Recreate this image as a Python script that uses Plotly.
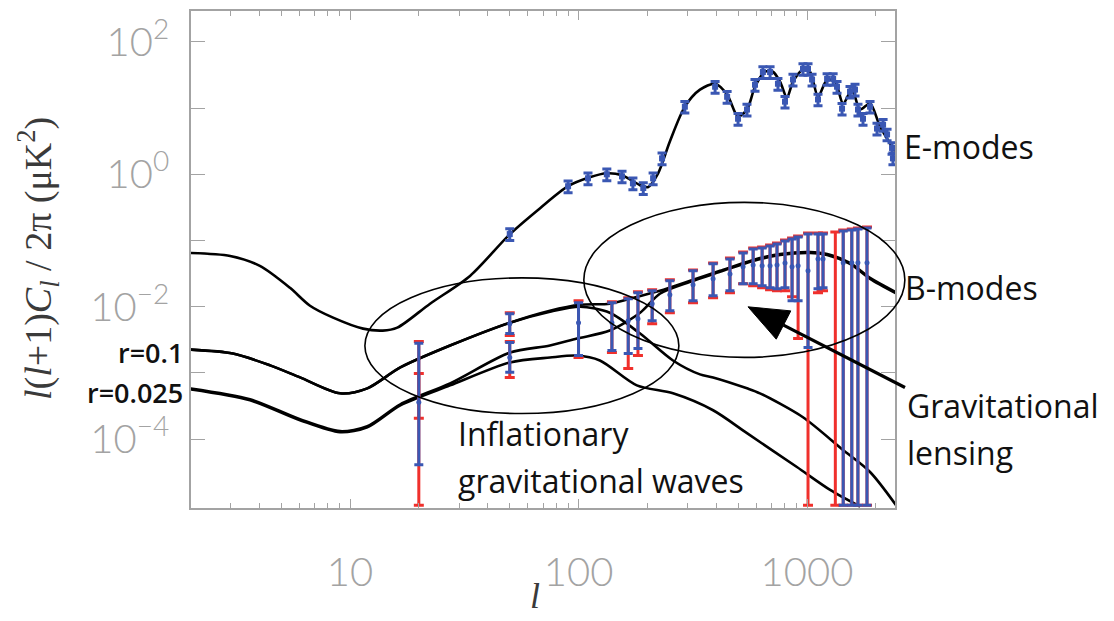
import plotly.graph_objects as go

# ---------------- data ----------------
# E-mode theory curve
ell_E_theory = [2.0, 2.99, 4.03, 5.46, 6.68, 8.43, 11.4, 13.9, 16.1, 22.4, 33.5, 50.1, 67.9, 90, 112, 133,
                155, 186, 201, 223, 251, 292, 340, 396, 447, 499, 546, 592, 654, 709, 762, 817, 868, 960,
                1030, 1117, 1224, 1327, 1438, 1574, 1706, 1887, 2086, 2427]
DE_theory = [0.0649, 0.0585, 0.0414, 0.0193, 0.01035, 0.00684, 0.00467, 0.00436, 0.00483, 0.0111, 0.0292,
             0.125, 0.308, 0.66, 0.90, 1.035, 0.966, 0.684, 0.638, 1.035, 3.13, 10.5, 19.0, 23.3, 16.0, 7.45,
             9.5, 21.0, 35.4, 35.4, 25.0, 14.4, 25.0, 37.9, 35.4, 14.9, 26.8, 25.0, 11.7, 19.0, 9.5, 11.7,
             5.27, 2.22]

# E-mode simulated data points
ell_E_data = [50, 90, 110, 133, 155, 173, 192, 212, 232, 292, 396, 447, 499, 546, 592, 641, 689, 746, 801,
              868, 960, 1010, 1052, 1117, 1224, 1301, 1353, 1423, 1542, 1622, 1671, 1758, 1887, 2024, 2152,
              2240, 2355, 2377]
DE_data = [0.125, 0.66, 0.87, 1.0, 0.93, 0.73, 0.62, 0.87, 1.74, 10.5, 21.0, 14.8, 6.9, 9.5, 22.5, 35.0, 35.0,
           23.3, 12.5, 27.0, 39.0, 39.0, 27.0, 13.5, 27.6, 27.6, 21.0, 9.8, 17.7, 19.0, 9.5, 6.9, 10.5, 4.9,
           5.6, 4.0, 2.5, 1.74]

# B-mode tensor (gravitational wave) curves
ell_T01 = [2.0, 3.07, 4.47, 6.04, 9.04, 11.9, 16.6, 27.4, 50.1, 75, 101.6, 137, 186, 259, 340, 388, 546, 622,
           960, 1438, 1887, 2477]
DB_T01 = [2.25e-3, 1.96e-3, 1.30e-3, 8.56e-4, 4.92e-4, 5.85e-4, 1.21e-3, 2.59e-3, 5.74e-3, 8.41e-3, 1.0e-2,
          8.1e-3, 3.93e-3, 1.54e-3, 9.5e-4, 8.56e-4, 5.85e-4, 4.92e-4, 2.14e-4, 6.84e-5, 3.19e-5, 9.6e-6]

ell_T0025 = [2.0, 3.65, 6.04, 9.04, 11.9, 16.6, 27.4, 50.1, 75, 98.4, 124, 180, 259, 388, 546, 903, 1262, 1706]
DB_T0025 = [5.65e-4, 3.86e-4, 1.93e-4, 1.27e-4, 1.51e-4, 3.24e-4, 6.48e-4, 1.44e-3, 1.71e-3, 1.83e-3, 1.54e-3,
            6.48e-4, 4.92e-4, 2.73e-4, 1.23e-4, 3.79e-5, 1.71e-5, 9.6e-6]

# B-mode total (tensor + lensing) curves
ell_tot01 = [2.0, 3.07, 4.47, 6.04, 9.04, 11.9, 16.6, 27.4, 50.1, 75, 101.6, 137, 168, 227, 308, 416, 581, 762,
             1030, 1224, 1542, 1887, 2477]
DB_tot01 = [2.25e-3, 1.96e-3, 1.30e-3, 8.56e-4, 4.92e-4, 5.85e-4, 1.21e-3, 2.59e-3, 5.74e-3, 8.7e-3, 1.07e-2,
            1.11e-2, 1.32e-2, 1.74e-2, 2.46e-2, 3.48e-2, 5.09e-2, 6.26e-2, 6.71e-2, 6.26e-2, 4.59e-2,
            2.73e-2, 1.63e-2]

ell_tot0025 = [2.0, 3.65, 6.04, 9.04, 11.9, 16.6, 27.4, 50.1, 75, 98.4, 137, 186, 227, 308, 416, 581, 762,
               1030, 1224, 1542, 1887, 2477]
DB_tot0025 = [5.85e-4, 4.0e-4, 2.0e-4, 1.32e-4, 1.57e-4, 3.36e-4, 6.95e-4, 2.03e-3, 2.59e-3, 3.3e-3, 4.36e-3,
              8.1e-3, 1.57e-2, 2.38e-2, 3.36e-2, 4.92e-2, 6.05e-2, 6.49e-2, 6.05e-2, 4.44e-2, 2.64e-2,
              1.57e-2]

# B-mode simulated data, blue experiment: centre, lower, upper
ell_Bb = [20, 50, 50, 100, 140, 165, 182, 210, 251, 317, 388, 460, 525, 581, 636, 689, 739, 801, 860, 914,
          1010, 1117, 1175, 1440, 1570, 1670, 1830]
DB_b = [3.6e-4, 5.55e-3, 1.71e-3, 5.74e-3, 5.74e-3, 6.15e-3, 6.6e-3, 1.11e-2, 1.52e-2, 2.14e-2, 2.64e-2,
        3.13e-2, 4.0e-2, 4.28e-2, 4.14e-2, 4.14e-2, 4.28e-2, 4.59e-2, 4.0e-2, 4.14e-2, 3.48e-2, 5.27e-2,
        5.27e-2, 4.6e-2, 4.6e-2, 4.6e-2, 4.6e-2]
DB_b_lo = [4.1e-5, 3.93e-3, 1.02e-3, 1.83e-3, 2.18e-3, 1.96e-3, 2.33e-3, 6.15e-3, 8.71e-3, 1.23e-2, 1.46e-2,
           1.74e-2, 2.22e-2, 2.22e-2, 2.07e-2, 1.93e-2, 1.87e-2, 1.93e-2, 1.23e-2, 1.23e-2, 2.42e-3, 1.87e-2,
           1.93e-2, 1.0e-5, 1.0e-5, 1.0e-5, 1.0e-5]
DB_b_hi = [2.8e-3, 7.85e-3, 2.88e-3, 1.15e-2, 1.15e-2, 1.32e-2, 1.63e-2, 1.74e-2, 2.46e-2, 3.48e-2, 4.44e-2,
           5.27e-2, 6.49e-2, 7.45e-2, 7.71e-2, 8.26e-2, 8.86e-2, 9.83e-2, 0.105, 0.113, 0.125, 0.125, 0.125,
           0.139, 0.144, 0.149, 0.154]

# B-mode simulated data, red experiment: centre, lower, upper
ell_Br = [20, 20, 50, 50, 100, 140, 165, 182, 210, 251, 317, 388, 460, 525, 581, 636, 689, 739, 801, 860, 914,
          1010, 1117, 1175, 1330, 1440, 1570, 1670, 1830]
DB_r = [3.6e-4, 4.59e-4, 5.55e-3, 1.71e-3, 5.74e-3, 5.74e-3, 6.15e-3, 6.6e-3, 1.11e-2, 1.52e-2, 2.14e-2,
        2.64e-2, 3.13e-2, 4.0e-2, 4.28e-2, 4.14e-2, 4.14e-2, 4.28e-2, 4.59e-2, 4.0e-2, 4.14e-2, 3.48e-2,
        5.27e-2, 5.27e-2, 5.0e-2, 4.6e-2, 4.6e-2, 4.6e-2, 4.6e-2]
DB_r_lo = [1.0e-5, 2.07e-4, 3.66e-3, 8.55e-4, 1.71e-3, 2.03e-3, 1.17e-3, 1.83e-3, 5.55e-3, 8.13e-3, 1.15e-2,
           1.37e-2, 1.63e-2, 2.22e-2, 2.07e-2, 1.93e-2, 1.8e-2, 1.74e-2, 1.74e-2, 1.41e-2, 3.3e-3, 1.0e-5,
           1.63e-2, 1.74e-2, 1.0e-5, 1.0e-5, 1.0e-5, 1.0e-5, 1.0e-5]
DB_r_hi = [2.98e-3, 9.8e-4, 8.13e-3, 2.98e-3, 1.23e-2, 1.19e-2, 1.37e-2, 1.68e-2, 1.8e-2, 2.55e-2, 3.6e-2,
           4.59e-2, 5.46e-2, 6.72e-2, 7.71e-2, 7.98e-2, 8.55e-2, 9.17e-2, 0.102, 0.109, 0.117, 0.130, 0.130,
           0.130, 0.134, 0.144, 0.149, 0.154, 0.160]

x_tick_vals = [10, 100, 1000]
x_tick_text = ["10", "100", "1000"]
x_minor_vals = [2, 3, 4, 5, 6, 7, 8, 9, 20, 30, 40, 50, 60, 70, 80, 90, 200, 300, 400, 500, 600, 700, 800, 900, 2000]
y_tick_vals = [1e-4, 1e-2, 1, 100]
y_tick_text = ["10<sup>\u22124</sup>", "10<sup>\u22122</sup>", "10<sup>0</sup>", "10<sup>2</sup>"]
y_minor_vals = [1e-3, 1e-1, 10]

# ---------------- figure ----------------
BLUE = "#3a57b3"
RED = "#f0302c"
GRAY = "#a3a3a3"

fig = go.Figure()

line_style = dict(color="black", width=2.6, shape="spline", smoothing=0.8)
for xs, ys in [(ell_E_theory, DE_theory), (ell_T01, DB_T01), (ell_T0025, DB_T0025),
               (ell_tot01, DB_tot01), (ell_tot0025, DB_tot0025)]:
    fig.add_trace(go.Scatter(x=xs, y=ys, mode="lines", line=line_style, hoverinfo="skip", showlegend=False))


def err(c, lo, hi):
    return [h - v for v, h in zip(c, hi)], [v - l for v, l in zip(c, lo)]


r_plus, r_minus = err(DB_r, DB_r_lo, DB_r_hi)
fig.add_trace(go.Scatter(x=ell_Br, y=DB_r, mode="markers", marker=dict(size=1, color=RED),
                         error_y=dict(type="data", symmetric=False, array=r_plus, arrayminus=r_minus,
                                      color=RED, thickness=3, width=5),
                         showlegend=False))
b_plus, b_minus = err(DB_b, DB_b_lo, DB_b_hi)
fig.add_trace(go.Scatter(x=ell_Bb, y=DB_b, mode="markers", marker=dict(size=5, color=BLUE),
                         error_y=dict(type="data", symmetric=False, array=b_plus, arrayminus=b_minus,
                                      color=BLUE, thickness=3, width=4.5),
                         showlegend=False))

fig.add_trace(go.Scatter(x=ell_E_data, y=DE_data, mode="markers",
                         marker=dict(size=6, color=BLUE, symbol="square"),
                         error_y=dict(type="percent", value=20, color=BLUE, thickness=3, width=4.5),
                         showlegend=False))

# ellipses (paper coordinates)
fig.add_shape(type="circle", xref="paper", yref="paper", x0=0.247, x1=0.693, y0=0.190, y1=0.463,
              line=dict(color="black", width=1.6))
fig.add_shape(type="circle", xref="paper", yref="paper", x0=0.558, x1=1.014, y0=0.303, y1=0.615,
              line=dict(color="black", width=1.6))
# lensing arrow: shaft and filled head (paper coordinates)
fig.add_shape(type="line", xref="paper", yref="paper", x0=1.0142, y0=0.2425, x1=0.8416, y1=0.3681,
              line=dict(color="black", width=3.2))
fig.add_shape(type="path", xref="paper", yref="paper",
              path="M 0.7912 0.4048 L 0.8520 0.3966 L 0.8313 0.3397 Z",
              fillcolor="black", line=dict(color="black", width=1))

TXT = dict(family="Open Sans, Noto Sans, sans-serif", size=32, color="#111111")
ann = []
ann.append(dict(text="E-modes", x=1.010, y=0.728, xanchor="left", yanchor="middle", font=TXT))
ann.append(dict(text="B-modes", x=1.012, y=0.4429, xanchor="left", yanchor="middle", font=TXT))
ann.append(dict(text="Gravitational", x=1.014, y=0.2064, xanchor="left", yanchor="middle", font=TXT))
ann.append(dict(text="lensing", x=1.014, y=0.1122, xanchor="left", yanchor="middle", font=TXT))
ann.append(dict(text="Inflationary", x=0.3764, y=0.1503, xanchor="left", yanchor="middle", font=TXT))
ann.append(dict(text="gravitational waves", x=0.3764, y=0.0561, xanchor="left", yanchor="middle", font=TXT))
RFONT = dict(family="Open Sans, Noto Sans, sans-serif", size=27, color="#111111", weight=600)
ann.append(dict(text="r=0.1", x=-0.0085, y=0.3126, xanchor="right", yanchor="middle", font=RFONT))
ann.append(dict(text="r=0.025", x=-0.0085, y=0.2325, xanchor="right", yanchor="middle", font=RFONT))
# axis titles
ann.append(dict(text="<i>l</i>(<i>l</i>+1)<i>C<sub>l</sub></i> / 2\u03c0 (\u03bcK<sup>2</sup>)",
                x=-0.2173, y=0.501, xanchor="center", yanchor="middle", textangle=-90,
                font=dict(family="Liberation Serif, Times New Roman, serif", size=38, color="#3a3a3a")))
ann.append(dict(text="<i>l</i>", x=0.4886, y=-0.178, xanchor="center", yanchor="middle",
                font=dict(family="Liberation Serif, Times New Roman, serif", size=36, color="#3a3a3a")))
for a in ann:
    a.setdefault("xref", "paper")
    a.setdefault("yref", "paper")
    a.setdefault("showarrow", False)
fig.update_layout(annotations=ann)

TICKFONT = dict(family="Lato, Inter, sans-serif", size=40, color=GRAY, weight=300)
fig.update_xaxes(type="log", range=[0.304, 3.385], tickvals=x_tick_vals, ticktext=x_tick_text,
                 ticks="inside", ticklen=9, tickwidth=1.2, tickcolor=GRAY,
                 minor=dict(tickvals=x_minor_vals, ticks="inside", ticklen=5, tickwidth=1.2, tickcolor=GRAY),
                 showline=True, linecolor=GRAY, linewidth=1.6, mirror="allticks",
                 showgrid=False, zeroline=False, tickfont=TICKFONT, ticklabelstandoff=28)
fig.update_yaxes(type="log", range=[-5.04, 2.466], tickvals=y_tick_vals, ticktext=y_tick_text,
                 ticks="inside", ticklen=14, tickwidth=1.2, tickcolor=GRAY,
                 minor=dict(tickvals=y_minor_vals, ticks="inside", ticklen=14, tickwidth=1.2, tickcolor=GRAY),
                 showline=True, linecolor=GRAY, linewidth=1.6, mirror="allticks",
                 showgrid=False, zeroline=False, tickfont=TICKFONT, ticklabelstandoff=12)

fig.update_layout(width=1114, height=621, autosize=False,
                  margin=dict(l=191, r=219, t=9, b=113),
                  paper_bgcolor="white", plot_bgcolor="white", showlegend=False)

fig.write_html("out.html")
